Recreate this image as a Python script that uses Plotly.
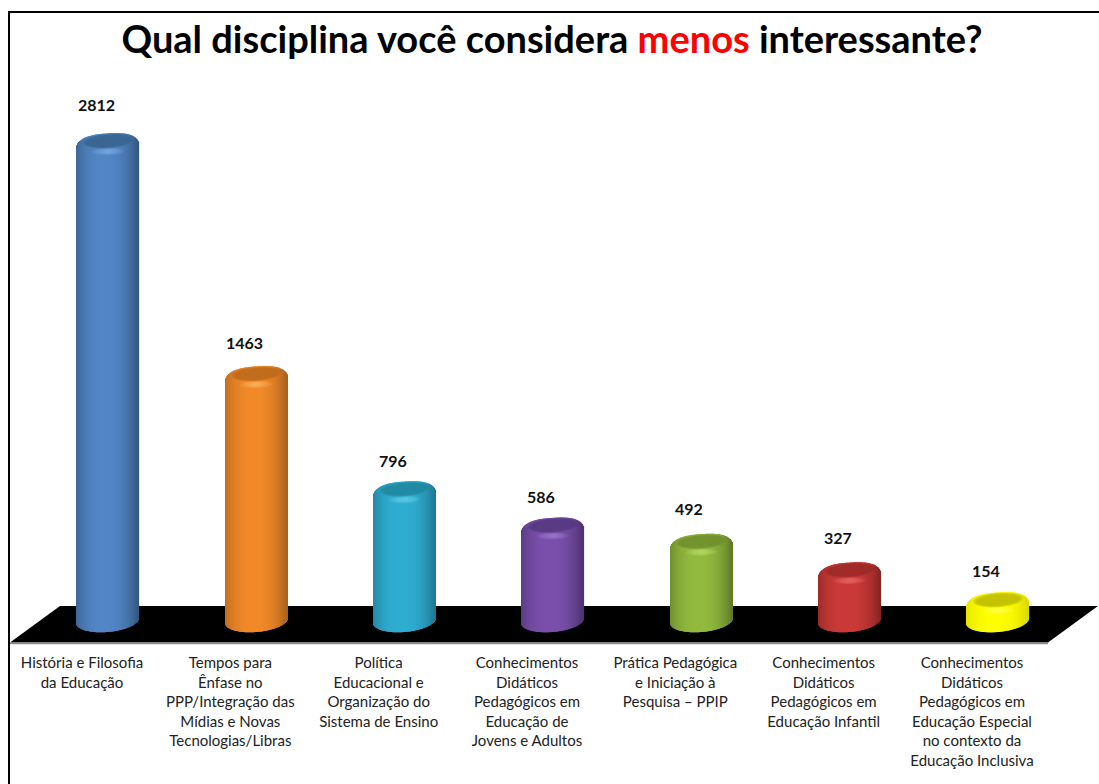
import numpy as np
import plotly.graph_objects as go

categories = [
    "História e Filosofia<br>da Educação",
    "Tempos para<br>Ênfase no<br>PPP/Integração das<br>Mídias e Novas<br>Tecnologias/Libras",
    "Política<br>Educacional e<br>Organização do<br>Sistema de Ensino",
    "Conhecimentos<br>Didáticos<br>Pedagógicos em<br>Educação de<br>Jovens e Adultos",
    "Prática Pedagógica<br>e Iniciação à<br>Pesquisa – PPIP",
    "Conhecimentos<br>Didáticos<br>Pedagógicos em<br>Educação Infantil",
    "Conhecimentos<br>Didáticos<br>Pedagógicos em<br>Educação Especial<br>no contexto da<br>Educação Inclusiva",
]
values = [2812, 1463, 796, 586, 492, 327, 154]
center_colors = ["#5286C6", "#F28A2A", "#2FAED2", "#7A50AC", "#93BB3E", "#CB3A38", "#FFFF00"]
edge_colors = ["#33587F", "#A9601C", "#1F7792", "#4D3270", "#5F7A27", "#872422", "#DADA00"]
cap_colors = ["#38628F", "#BC6A1E", "#21889F", "#563880", "#6F8F2D", "#9C2B29", "#BEBE00"]
rim_colors = ["#8DBBF0", "#FFC878", "#7FDCF2", "#AD8CDC", "#C8E878", "#F58080", "#FFFF70"]

W, H = 1099, 784
AXIS_PX, ZERO_PX, PX_PER_UNIT = 644.0, 631.6, 0.1727
X0_PX, STEP_PX = 108.0, 148.33
BAR_PX, BASE_PX, STRIPS = 62.0, 621.0, 62
TOP_HV_PX, BOT_HV_PX, TOP_TILT_PX, BOT_TILT_PX = 12.5, 11.0, 2.0, 2.5
TICK_SHIFT_PX, LABEL_XSHIFT_PX = -26.0, -12
FONT = "Lato"
label_shift_px = [41, 36, 34, 34, 38, 38, 35]


def hex_rgb(c):
    return np.array([int(c[i:i + 2], 16) for i in (1, 3, 5)], float)


def shade(c_center, c_edge, t):
    a = np.clip(abs(t + 0.08) / 1.08, 0, 1) ** 2.4
    rgb = hex_rgb(c_center) * (1 - a) + hex_rgb(c_edge) * a
    return "rgb(%d,%d,%d)" % tuple(rgb)


def rgba(c, alpha):
    r, g, b = hex_rgb(c)
    return f"rgba({int(r)},{int(g)},{int(b)},{alpha})"


y_low = -(AXIS_PX - ZERO_PX) / PX_PER_UNIT
y_high = ZERO_PX / PX_PER_UNIT
x_low = -X0_PX / STEP_PX
x_high = (W - X0_PX) / STEP_PX
u = 1 / PX_PER_UNIT
xu = 1 / STEP_PX
base_val = (ZERO_PX - BASE_PX) * u
half_w = BAR_PX * xu / 2

fig = go.Figure()
shapes = []


def px_x(p):
    return p / W


def px_y(p):
    return 1 - p / H


def ellipse(cx, cy, hw_px, hv_px, tilt_px, color):
    th = np.linspace(0, 2 * np.pi, 41)[:-1]
    cs, sn = np.cos(th), np.sin(th)
    xs = cx + hw_px * xu * cs
    ys = cy + (hv_px * sn + tilt_px * cs) * u
    d = "M " + " L ".join(f"{a:.4f},{b:.2f}" for a, b in zip(xs, ys)) + " Z"
    return dict(type="path", xref="x", yref="y", layer="above", path=d,
                fillcolor=color, line=dict(width=0))


# floor, floor edge and frame
floor = [(10, 642.5), (60, 606), (1098, 606), (1048, 642.5)]
shapes.append(dict(type="path", xref="paper", yref="paper", layer="below",
                   path="M " + " L ".join(f"{px_x(a):.5f},{px_y(b):.5f}" for a, b in floor) + " Z",
                   fillcolor="#000000", line=dict(width=0)))
shapes.append(dict(type="line", xref="paper", yref="paper", x0=px_x(9), x1=px_x(1048),
                   y0=px_y(643.5), y1=px_y(643.5), line=dict(color="#8C8C8C", width=1.5)))
shapes.append(dict(type="line", xref="paper", yref="paper", x0=px_x(9), x1=px_x(9), y0=0, y1=px_y(12),
                   line=dict(color="#000000", width=2)))
shapes.append(dict(type="line", xref="paper", yref="paper", x0=px_x(8), x1=1, y0=px_y(12), y1=px_y(12),
                   line=dict(color="#000000", width=2)))

for i, v in enumerate(values):
    t = (np.arange(STRIPS) + 0.5) / STRIPS * 2 - 1
    xs = i + t * half_w
    round_b = np.sqrt(1 - t ** 2)
    round_t = np.sqrt(1 - np.abs(t) ** 2.8)
    bottoms = base_val + (-BOT_HV_PX * round_b + BOT_TILT_PX * t) * u
    tops = v + (TOP_HV_PX * round_t + TOP_TILT_PX * t) * u
    fig.add_trace(go.Bar(
        x=xs, y=tops - bottoms, base=bottoms, width=2 * half_w / STRIPS * 1.25,
        marker=dict(color=[shade(center_colors[i], edge_colors[i], s) for s in t], line=dict(width=0)),
        hoverinfo="skip", showlegend=False,
    ))
    # soft highlight on the front of the shoulder
    for k in range(5):
        shapes.append(ellipse(i, v - 5.5 * u, 16 - 3 * k, 3.6 - 0.5 * k, 0.3,
                              rgba(rim_colors[i], 0.15)))
    # darker top surface with a soft edge
    for k in range(6):
        shapes.append(ellipse(i, v + 5 * u, 25 - 0.9 * k, 7.4 - 0.45 * k, 1.6,
                              rgba(cap_colors[i], 0.3)))
    fig.add_annotation(x=i, y=v, yshift=label_shift_px[i], xshift=LABEL_XSHIFT_PX,
                       text=f"<b>{v}</b>", showarrow=False,
                       font=dict(family=FONT, size=16, color="#111111"))

fig.update_layout(
    width=W, height=H, autosize=False,
    margin=dict(l=0, r=0, t=0, b=0, pad=0),
    barmode="overlay", paper_bgcolor="white", plot_bgcolor="rgba(0,0,0,0)",
    showlegend=False, shapes=shapes,
    title=dict(text='<b>Qual disciplina você considera <span style="color:#FF0000">menos</span> interessante?</b>',
               x=552 / W, xanchor="center", y=1 - 40 / H, yanchor="middle",
               font=dict(family=FONT, size=38, color="#000000")),
    xaxis=dict(range=[x_low, x_high], tickmode="array",
               tickvals=[k + TICK_SHIFT_PX / STEP_PX for k in range(len(categories))],
               ticktext=categories, tickangle=0, ticks="", showgrid=False, zeroline=False,
               showline=False,
               tickfont=dict(family=FONT, size=15, color="#222222"), ticklabelstandoff=8),
    yaxis=dict(range=[y_low, y_high], domain=[1 - AXIS_PX / H, 1], visible=False),
)
fig.write_html("out.html", post_script="document.body.style.margin='0';",
               config=dict(displayModeBar=False))
